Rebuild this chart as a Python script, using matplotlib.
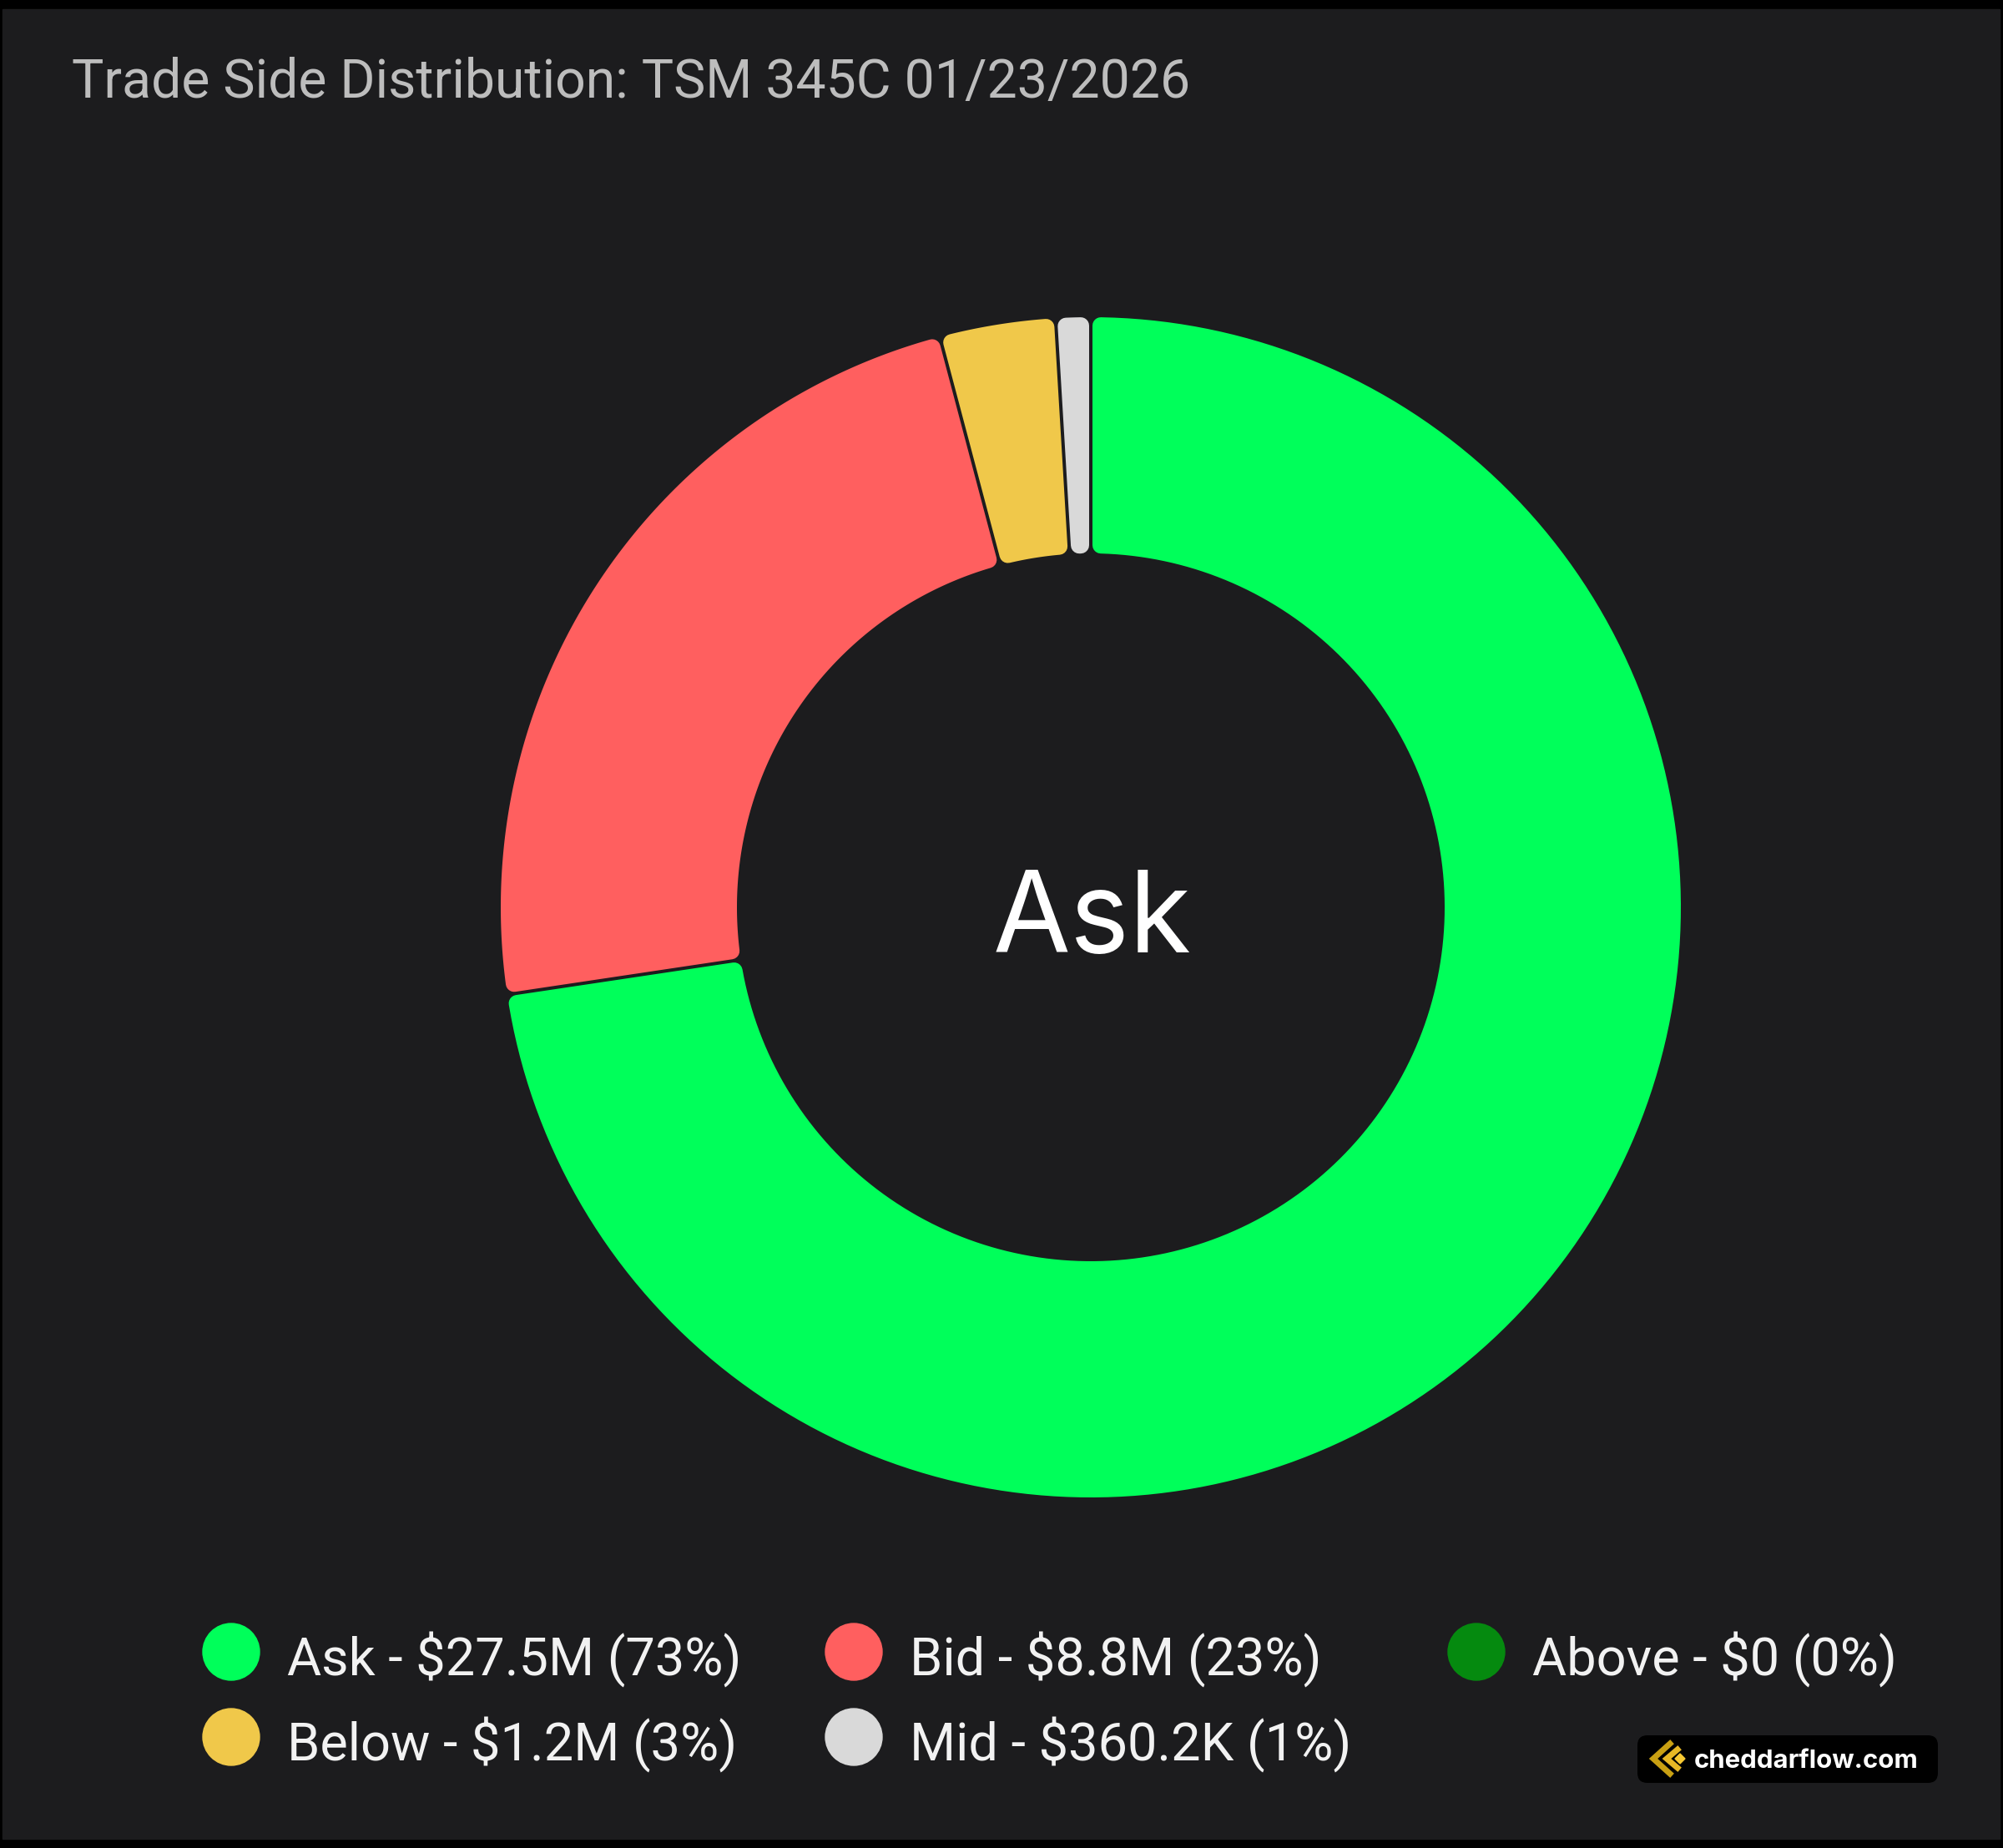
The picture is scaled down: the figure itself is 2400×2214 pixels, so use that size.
import matplotlib.pyplot as plt
from matplotlib.patches import Rectangle, FancyBboxPatch, Polygon, Circle
import numpy as np

# data
categories = ['Ask', 'Bid', 'Above', 'Below', 'Mid']
values_m = [27.5, 8.8, 0.0, 1.2, 0.3602]          # $ millions
value_labels = ['$27.5M', '$8.8M', '$0', '$1.2M', '$360.2K']
colors = ['#00FF5A', '#FF5F5F', '#058A0F', '#F0C84A', '#D9D9D9']
title = 'Trade Side Distribution: TSM 345C 01/23/2026'
center_label = 'Ask'

W, H = 2400, 2214
BG = '#1C1C1E'
TEXT_FONT = ['Liberation Sans Narrow', 'Roboto', 'DejaVu Sans']

fig = plt.figure(figsize=(24, 22.14), dpi=100, facecolor='black')
ax = fig.add_axes([0, 0, 1, 1])
ax.set_facecolor('black')

# dark panel inside the thin black frame
ax.add_patch(Rectangle((3, 11), 2393, 2192, color=BG, zorder=0))

# donut (y axis points down, so counterclock=True reads clockwise on screen)
cx, cy = 1307, 1087
R, r_in = 707, 424
wedges, _ = ax.pie(values_m, radius=R, center=(cx, cy), startangle=270,
                   counterclock=True, colors=colors,
                   wedgeprops=dict(width=R - r_in))


def rounded_slice(t1, t2, r0, r1, c=10, gap=4):
    # polygon inset by the corner radius; a round stroke of width 2c puts it back
    d = c + gap / 2
    ro, ri = r1 - c, r0 + c
    a1o, a2o = np.radians(t1) + np.arcsin(d / ro), np.radians(t2) - np.arcsin(d / ro)
    a1i, a2i = np.radians(t1) + np.arcsin(d / ri), np.radians(t2) - np.arcsin(d / ri)
    if a2i < a1i:
        a1i = a2i = (a1i + a2i) / 2
    outer = np.linspace(a2o, a1o, 200)
    inner = np.linspace(a1i, a2i, 200)
    xs = np.concatenate([cx + ro * np.cos(outer), cx + ri * np.cos(inner)])
    ys = np.concatenate([cy + ro * np.sin(outer), cy + ri * np.sin(inner)])
    return np.column_stack([xs, ys])


corner = 10
for w, v, col in zip(wedges, values_m, colors):
    w.set_visible(False)
    if v <= 0:
        continue
    pts = rounded_slice(w.theta1, w.theta2, r_in, R, c=corner)
    ax.add_patch(Polygon(pts, closed=True, facecolor=col, edgecolor=col,
                         linewidth=2 * corner * 0.72, joinstyle='round', zorder=2))

ax.set_xlim(0, W)
ax.set_ylim(H, 0)
ax.set_aspect('auto')
ax.axis('off')

renderer = fig.canvas.get_renderer()


def fit_width(t, target):
    bb = t.get_window_extent(renderer)
    t.set_fontsize(t.get_fontsize() * target / bb.width)


# title
t = ax.text(86, 117, title, color='#BDBDBD', fontsize=46, family=TEXT_FONT,
            ha='left', va='baseline')
fit_width(t, 1342)

# center label
c_lab = ax.text(1309, 1141, center_label, color='white', fontsize=108,
                family=['Inter', 'DejaVu Sans'], ha='center', va='baseline')
fit_width(c_lab, 238)

# legend
total = sum(values_m)
col_x = [277, 1023, 1769]
row_y = [1979, 2081]
legend_texts = []
for i, (cat, lab, v, col) in enumerate(zip(categories, value_labels, values_m, colors)):
    x = col_x[i % 3]
    y = row_y[i // 3]
    ax.add_patch(Circle((x, y), 34, color=col, zorder=3))
    pct = round(v / total * 100)
    txt = ax.text(x + 67, y + 28, f'{cat} - {lab} ({pct}%)', color='#F2F2F2',
                  fontsize=46, family=TEXT_FONT, ha='left', va='baseline')
    legend_texts.append(txt)

bb = legend_texts[0].get_window_extent(renderer)
scale = 544 / bb.width
for txt in legend_texts:
    txt.set_fontsize(txt.get_fontsize() * scale)

# watermark badge
ax.add_patch(FancyBboxPatch((1962, 2079), 360, 57, boxstyle='round,pad=0,rounding_size=12',
                            facecolor='black', edgecolor='none', zorder=3))
ax.plot([2001, 1981, 2001], [2089, 2107, 2125], color='#C9A013', lw=5,
        solid_joinstyle='miter', zorder=4)
ax.plot([2010, 1997, 2010], [2096, 2107, 2118], color='#E8B825', lw=5,
        solid_joinstyle='miter', zorder=4)
ax.add_patch(Polygon([[2013, 2101], [2019, 2107], [2013, 2113], [2007, 2107]],
                     closed=True, color='#F6C833', zorder=4))
wm = ax.text(2030, 2118, 'cheddarflow.com', color='white', fontsize=20, fontweight='bold',
             family=['Inter', 'DejaVu Sans'], ha='left', va='baseline', zorder=4)
fit_width(wm, 269)

fig.savefig('out.png', dpi=100, facecolor='black')
